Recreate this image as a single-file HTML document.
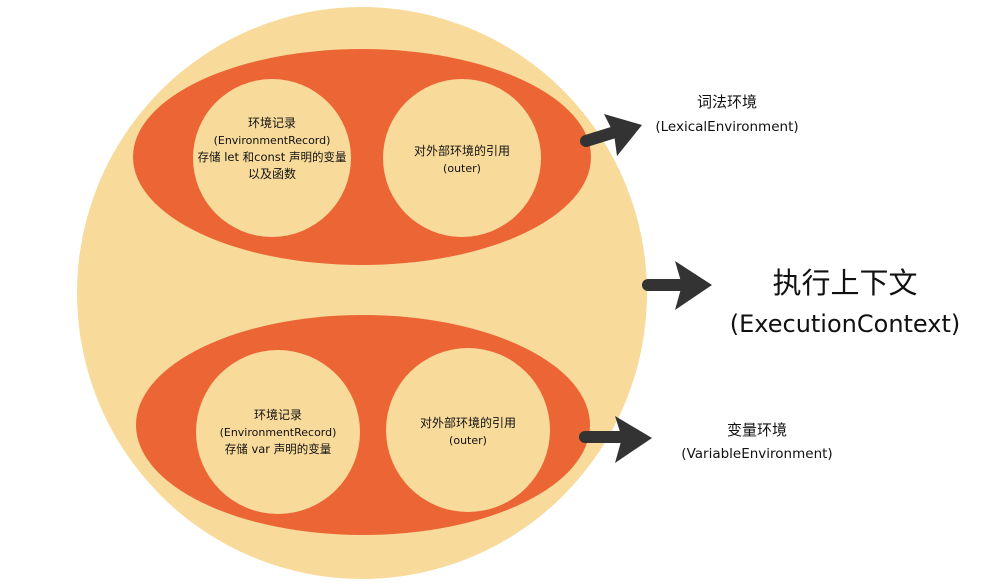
<!DOCTYPE html>
<html><head><meta charset="utf-8"><style>
body{margin:0;background:#fff;}
svg{display:block;}
text{font-family:"DejaVu Sans","Noto Sans CJK SC",sans-serif;fill:#111;text-anchor:middle;}
</style></head><body>
<svg width="1000" height="585" viewBox="0 0 1000 585">
<ellipse cx="362" cy="293" rx="285" ry="286" fill="#f8da9a"/>
<ellipse cx="362" cy="157" rx="229" ry="108" fill="#ec6535"/>
<ellipse cx="363" cy="425" rx="227" ry="110" fill="#ec6535"/>
<circle cx="272" cy="158" r="79" fill="#f8da9a"/>
<circle cx="462" cy="158" r="79" fill="#f8da9a"/>
<circle cx="278" cy="432" r="82" fill="#f8da9a"/>
<circle cx="468" cy="430" r="82" fill="#f8da9a"/>
<g font-size="11">
<text x="272" y="127" font-size="12">环境记录</text>
<text x="272" y="144">(EnvironmentRecord)</text>
<text x="272" y="161" font-size="11.5">存储 let 和const 声明的变量</text>
<text x="272" y="178" font-size="12">以及函数</text>
<text x="462" y="155" font-size="12">对外部环境的引用</text>
<text x="462" y="172">(outer)</text>
<text x="278" y="419" font-size="12">环境记录</text>
<text x="278" y="436">(EnvironmentRecord)</text>
<text x="278" y="453" font-size="11.5">存储 var 声明的变量</text>
<text x="468" y="427" font-size="12">对外部环境的引用</text>
<text x="468" y="444">(outer)</text>
</g>
<g stroke="#333" stroke-width="12" stroke-linecap="round" fill="#333">
<line x1="586" y1="141" x2="615" y2="132"/>
<line x1="648" y1="285" x2="680" y2="285"/>
<line x1="585" y1="437" x2="620" y2="437"/>
</g>
<g fill="#333">
<polygon points="604,114 642,125 617,156 614,134"/>
<polygon points="675,261 712,285 675,310 682,285"/>
<polygon points="615,416 652,438 615,463 622,438"/>
</g>
<text x="727" y="107" font-size="15">词法环境</text>
<text x="727" y="131" font-size="13.5">(LexicalEnvironment)</text>
<text x="845" y="293" font-size="29">执行上下文</text>
<text x="845" y="332" font-size="24">(ExecutionContext)</text>
<text x="757" y="435" font-size="15">变量环境</text>
<text x="757" y="458" font-size="13.5">(VariableEnvironment)</text>
</svg>
</body></html>
